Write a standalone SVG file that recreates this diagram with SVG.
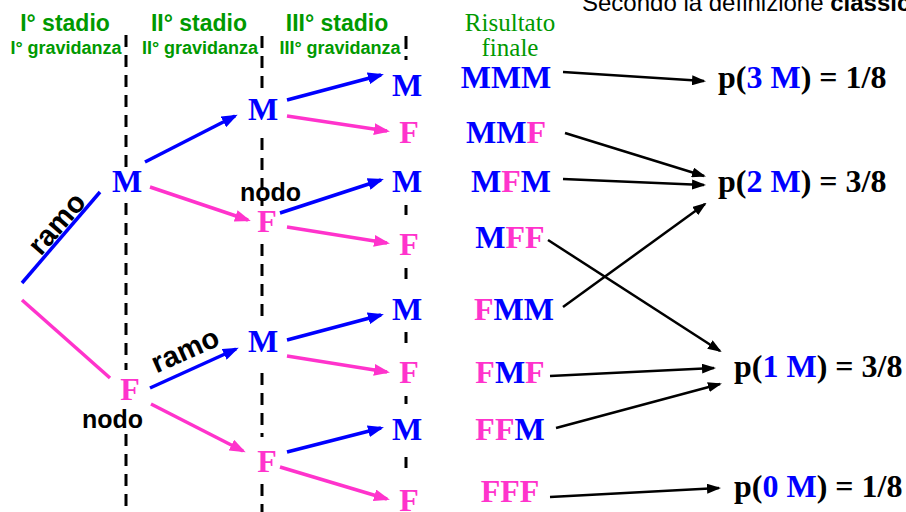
<svg xmlns="http://www.w3.org/2000/svg" width="906" height="512" viewBox="0 0 906 512">
<defs>
<marker id="ab" markerUnits="userSpaceOnUse" markerWidth="16" markerHeight="12" refX="13" refY="6" orient="auto"><path d="M0,0 L16,6 L0,12 z" fill="#0000FF"/></marker>
<marker id="ap" markerUnits="userSpaceOnUse" markerWidth="16" markerHeight="12" refX="13" refY="6" orient="auto"><path d="M0,0 L16,6 L0,12 z" fill="#FF33CC"/></marker>
<marker id="ak" markerUnits="userSpaceOnUse" markerWidth="14" markerHeight="10" refX="12" refY="5" orient="auto"><path d="M0,0 L14,5 L0,10 z" fill="#000"/></marker>
<style>
.hd{font-family:"Liberation Sans",Arial,sans-serif;font-weight:bold;fill:#009900;text-anchor:middle}
.h1{font-size:23px}
.h2{font-size:18px}
.lt{font-family:"Liberation Serif","Times New Roman",serif;font-weight:bold;font-size:32px;text-anchor:middle}
.pr{font-family:"Liberation Serif","Times New Roman",serif;font-weight:bold;font-size:32px;fill:#000}
.lbl{font-family:"Liberation Sans",Arial,sans-serif;font-weight:bold;fill:#000}
.m{fill:#0000FF}
.f{fill:#FF33CC}
.dash{stroke:#000;stroke-width:3;fill:none}
.bl{stroke:#0000FF;stroke-width:3.5;fill:none}
.pk{stroke:#FF33CC;stroke-width:3.5;fill:none}
.bk{stroke:#000;stroke-width:2.5;fill:none}
</style>
</defs>
<rect width="906" height="512" fill="#fff"/>
<text x="582" y="11" font-family="Liberation Sans,Arial,sans-serif" font-size="24" fill="#000">Secondo la definizione <tspan font-weight="bold">classic</tspan></text>

<g id="headers">
<text class="hd h1" x="65" y="31">I° stadio</text>
<text class="hd h1" x="199" y="31">II° stadio</text>
<text class="hd h1" x="337" y="31">III° stadio</text>
<text class="hd h2" x="66" y="54">I° gravidanza</text>
<text class="hd h2" x="200" y="54">II° gravidanza</text>
<text class="hd h2" x="340" y="54">III° gravidanza</text>
<text x="510" y="31" font-family="Liberation Serif,Times New Roman,serif" font-size="25" fill="#009900" text-anchor="middle">Risultato</text>
<text x="510" y="56" font-family="Liberation Serif,Times New Roman,serif" font-size="25" fill="#009900" text-anchor="middle">finale</text>
</g>

<g id="dividers">
<path class="dash" stroke-dasharray="12 8" d="M126,35 V170 M126,203 V370 M126,434 V512"/>
<path class="dash" stroke-dasharray="12 8" d="M262,36 V88 M262,138 V206 M262,244 V322 M262,373 V437 M262,484 V512"/>
<path class="dash" d="M406,36 V49 M406,56 V60 M406,205 V215 M406,268 V279 M406,332 V343 M406,396 V404 M406,457 V468"/>
</g>

<g id="connectors">
<line class="bl" x1="22" y1="283" x2="100" y2="192"/>
<line class="pk" x1="22" y1="300" x2="110" y2="378"/>
<line class="bl" x1="145" y1="162" x2="235" y2="116" marker-end="url(#ab)"/>
<line class="bl" x1="287" y1="100" x2="381" y2="75" marker-end="url(#ab)"/>
<line class="bl" x1="280" y1="213" x2="381" y2="180" marker-end="url(#ab)"/>
<line class="bl" x1="150" y1="388" x2="236" y2="349" marker-end="url(#ab)"/>
<line class="bl" x1="287" y1="340" x2="381" y2="315" marker-end="url(#ab)"/>
<line class="bl" x1="287" y1="452" x2="381" y2="428" marker-end="url(#ab)"/>
<line class="pk" x1="150" y1="187" x2="248" y2="220" marker-end="url(#ap)"/>
<line class="pk" x1="287" y1="116" x2="387" y2="131" marker-end="url(#ap)"/>
<line class="pk" x1="287" y1="227" x2="387" y2="243" marker-end="url(#ap)"/>
<line class="pk" x1="151" y1="404" x2="243" y2="451" marker-end="url(#ap)"/>
<line class="pk" x1="287" y1="356" x2="387" y2="372" marker-end="url(#ap)"/>
<line class="pk" x1="280" y1="467" x2="387" y2="499" marker-end="url(#ap)"/>
<line class="bk" x1="563" y1="72" x2="704" y2="81" marker-end="url(#ak)"/>
<line class="bk" x1="565" y1="133" x2="704" y2="176" marker-end="url(#ak)"/>
<line class="bk" x1="563" y1="179" x2="704" y2="185" marker-end="url(#ak)"/>
<line class="bk" x1="563" y1="307" x2="705" y2="204" marker-end="url(#ak)"/>
<line class="bk" x1="548" y1="240" x2="720" y2="351" marker-end="url(#ak)"/>
<line class="bk" x1="550" y1="376" x2="714" y2="368" marker-end="url(#ak)"/>
<line class="bk" x1="556" y1="428" x2="720" y2="384" marker-end="url(#ak)"/>
<line class="bk" x1="550" y1="497" x2="719" y2="488" marker-end="url(#ak)"/>
</g>

<g id="labels">
<text class="lbl" font-size="29" text-anchor="middle" transform="translate(64,230) rotate(-49)">ramo</text>
<text class="lbl" font-size="29" text-anchor="middle" transform="translate(189,359) rotate(-24)">ramo</text>
<text class="lbl" font-size="25" x="240" y="201">nodo</text>
<text class="lbl" font-size="25" x="82" y="428">nodo</text>
</g>

<g id="n1M"><text class="lt m" x="127" y="192">M</text></g>
<g id="n1F"><text class="lt f" x="130" y="400">F</text></g>
<g id="n2MM"><text class="lt m" x="263" y="120">M</text></g>
<g id="n2MF"><text class="lt f" x="267" y="232">F</text></g>
<g id="n2FM"><text class="lt m" x="263" y="352">M</text></g>
<g id="n2FF"><text class="lt f" x="267" y="472">F</text></g>
<g id="n3MMM"><text class="lt m" x="407" y="96">M</text></g>
<g id="n3MMF"><text class="lt f" x="409" y="143">F</text></g>
<g id="n3MFM"><text class="lt m" x="407" y="192">M</text></g>
<g id="n3MFF"><text class="lt f" x="409" y="255">F</text></g>
<g id="n3FMM"><text class="lt m" x="407" y="320">M</text></g>
<g id="n3FMF"><text class="lt f" x="409" y="383">F</text></g>
<g id="n3FFM"><text class="lt m" x="407" y="440">M</text></g>
<g id="n3FFF"><text class="lt f" x="409" y="511">F</text></g>

<g id="oMMM"><text class="lt" x="506" y="88"><tspan class="m">MMM</tspan></text></g>
<g id="oMMF"><text class="lt" x="506" y="143"><tspan class="m">MM</tspan><tspan class="f">F</tspan></text></g>
<g id="oMFM"><text class="lt" x="511" y="192"><tspan class="m">M</tspan><tspan class="f">F</tspan><tspan class="m">M</tspan></text></g>
<g id="oMFF"><text class="lt" x="510" y="248"><tspan class="m">M</tspan><tspan class="f">FF</tspan></text></g>
<g id="oFMM"><text class="lt" x="514" y="320"><tspan class="f">F</tspan><tspan class="m">MM</tspan></text></g>
<g id="oFMF"><text class="lt" x="510" y="383"><tspan class="f">F</tspan><tspan class="m">M</tspan><tspan class="f">F</tspan></text></g>
<g id="oFFM"><text class="lt" x="510" y="440"><tspan class="f">FF</tspan><tspan class="m">M</tspan></text></g>
<g id="oFFF"><text class="lt" x="510" y="502"><tspan class="f">FFF</tspan></text></g>

<g id="p3"><text class="pr" x="718" y="88">p(<tspan class="m">3 M</tspan>) = 1/8</text></g>
<g id="p2"><text class="pr" x="718" y="192">p(<tspan class="m">2 M</tspan>) = 3/8</text></g>
<g id="p1"><text class="pr" x="734" y="377">p(<tspan class="m">1 M</tspan>) = 3/8</text></g>
<g id="p0"><text class="pr" x="734" y="497">p(<tspan class="m">0 M</tspan>) = 1/8</text></g>
</svg>
